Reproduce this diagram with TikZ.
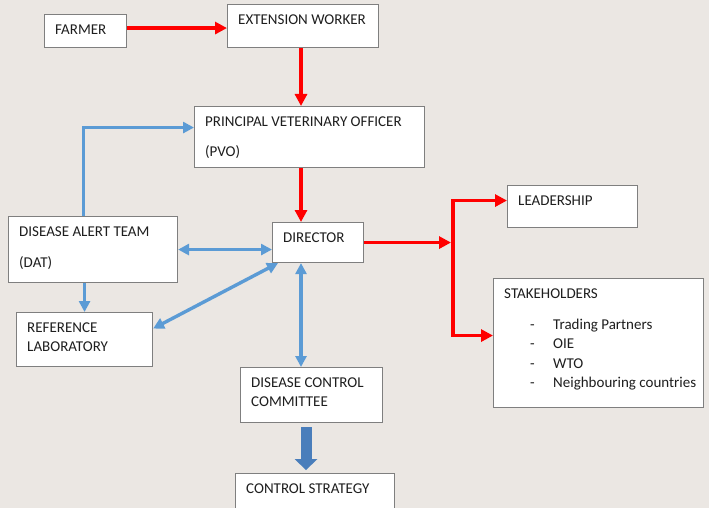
\documentclass[tikz,border=0pt]{standalone}
\usepackage{fontspec}
\setmainfont{Carlito}
\usetikzlibrary{arrows.meta}
\definecolor{paper}{HTML}{EBE7E3}
\definecolor{edgegray}{HTML}{7F7F7F}
\definecolor{inkgray}{HTML}{1E1E1E}
\definecolor{flowred}{HTML}{FF0000}
\definecolor{flowblue}{HTML}{5B9BD5}
\definecolor{deepblue}{HTML}{4A7EBB}
\tikzset{
  box/.style={draw=edgegray, line width=1.1pt, fill=white, anchor=north west, inner sep=0pt},
  txt/.style={anchor=north west, inner sep=0pt, xshift=11pt, yshift=-10.5pt, align=left,
    text=inkgray, font=\fontsize{15}{19.5}\selectfont},
  redarrow/.style={draw=flowred, line width=3.8pt, -{Triangle[length=12pt,width=12pt]}},
  redfork/.style={redarrow, {Triangle[length=12pt,width=12pt]}-{Triangle[length=12pt,width=12pt]}},
  bluearrow/.style={draw=flowblue, line width=3.4pt, -{Triangle[length=11pt,width=11pt]}},
  bothblue/.style={bluearrow, {Triangle[length=11pt,width=11pt]}-{Triangle[length=11pt,width=11pt]}},
  bigarrow/.style={draw=deepblue, line width=11pt, -{Triangle[length=11pt,width=23pt,line width=0pt]}}
}
\begin{document}
\begin{tikzpicture}[x=1pt,y=-1pt]
\clip (0,0) rectangle (709,508);
\fill[paper] (0,0) rectangle (709,508);
\coordinate (spine) at (301,0);
\coordinate (fork) at (453,0);
\coordinate (bigx) at (306,0);

% boxes
\node[box, minimum width=82pt, minimum height=33pt, label={[txt]north west:FARMER}] (farmer) at (44,14) {};
\node[box, minimum width=151pt, minimum height=43pt, label={[txt]north west:EXTENSION WORKER}] (ew) at (227,4) {};
\node[box, minimum width=230pt, minimum height=61pt, label={[txt]north west:PRINCIPAL VETERINARY OFFICER\\[10.5pt](PVO)}] (pvo) at (194,106) {};
\node[box, minimum width=169pt, minimum height=66pt, label={[txt]north west:DISEASE ALERT TEAM\\[12pt](DAT)}] (dat) at (8,216) {};
\node[box, minimum width=91pt, minimum height=40pt, label={[txt]north west:DIRECTOR}] (director) at (272,222) {};
\node[box, minimum width=136pt, minimum height=54pt, label={[txt]north west:REFERENCE\\LABORATORY}] (reflab) at (16,312) {};
\node[box, minimum width=142pt, minimum height=55pt, label={[txt]north west:DISEASE CONTROL\\COMMITTEE}] (dcc) at (240,367) {};
\node[box, minimum width=159pt, minimum height=45pt, label={[txt]north west:CONTROL STRATEGY}] (cs) at (235,473) {};
\node[box, minimum width=130pt, minimum height=42pt, label={[txt]north west:LEADERSHIP}] (leadership) at (507,185) {};
\node[box, minimum width=210pt, minimum height=129pt, label={[txt]north west:STAKEHOLDERS\\[11.5pt]%
\hspace*{26pt}\makebox[23pt][l]{-}Trading Partners\\
\hspace*{26pt}\makebox[23pt][l]{-}OIE\\
\hspace*{26pt}\makebox[23pt][l]{-}WTO\\
\hspace*{26pt}\makebox[23pt][l]{-}Neighbouring countries}] (stake) at (493,278) {};

% reporting line
\draw[redarrow] ([yshift=3pt]farmer.east) -- ([yshift=3pt]farmer.east -| ew.west);
\draw[redarrow] (ew.south -| spine) -- (pvo.north -| spine);
\draw[redarrow] (pvo.south -| spine) -- (director.north -| spine);
\draw[redarrow, shorten >=2pt] (director.east) -- (director.east -| fork);
\draw[redfork] ([yshift=6pt]leadership.west) -| ([yshift=7.5pt]stake.west -| fork) -- ([yshift=7.5pt]stake.west);

% blue links
\draw[bluearrow] ([xshift=-9.5pt]dat.north) |- ([yshift=9.5pt]pvo.west);
\draw[bothblue] (dat.east) -- (dat.east -| director.west);
\draw[bluearrow] (reflab.north |- dat.south) -- (reflab.north);
\draw[bothblue] ([yshift=11pt]reflab.east) -- ([xshift=6pt]director.south west);
\draw[bothblue] (director.south -| spine) -- (dcc.north -| spine);
\draw[bigarrow, shorten <=4pt, shorten >=3pt] (dcc.south -| bigx) -- (cs.north -| bigx);
\end{tikzpicture}
\end{document}
